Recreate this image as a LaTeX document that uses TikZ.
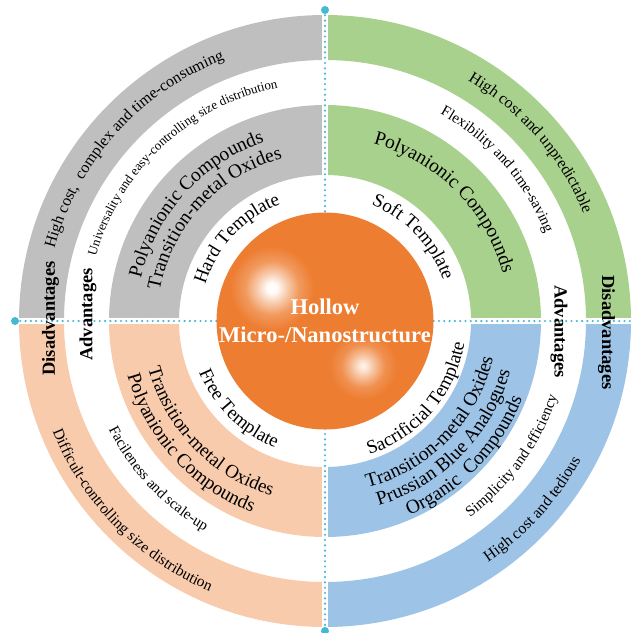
\documentclass[tikz,border=0pt]{standalone}
\usepackage{fontspec}
\setmainfont{Liberation Serif}
\usetikzlibrary{decorations.text}
\definecolor{grayC}{HTML}{BFBFBF}
\definecolor{greenC}{HTML}{A9D18E}
\definecolor{blueC}{HTML}{9DC3E6}
\definecolor{peachC}{HTML}{F8CBAD}
\definecolor{orangeC}{HTML}{ED7D31}
\definecolor{cyanC}{HTML}{45B8D2}
\pgfdeclareradialshading{glowA}{\pgfpoint{0bp}{0bp}}{color(0bp)=(white); color(3bp)=(white!97!orangeC); color(9bp)=(white!60!orangeC); color(16bp)=(white!22!orangeC); color(25bp)=(orangeC); color(50bp)=(orangeC)}
\pgfdeclareradialshading{glowB}{\pgfpoint{0bp}{0bp}}{color(0bp)=(white!92!orangeC); color(3bp)=(white!80!orangeC); color(9bp)=(white!48!orangeC); color(16bp)=(white!15!orangeC); color(25bp)=(orangeC); color(50bp)=(orangeC)}
\newcommand\ringpart[5]{%
  \fill[#1] (#2:#4pt) arc[start angle=#2, end angle=#3, radius=#4pt] -- (#3:#5pt) arc[start angle=#3, end angle=#2, radius=#5pt] -- cycle;}
\newcommand\cwtext[4]{%
  \path[decorate, decoration={text along path, text align=center, text={|\fontsize{#3}{#3}\selectfont|#4}}]
    ({#2+70}:#1pt) arc[start angle={#2+70}, end angle={#2-70}, radius=#1pt];}
\newcommand\ccwtext[4]{%
  \path[decorate, decoration={text along path, text align=center, text={|\fontsize{#3}{#3}\selectfont|#4}}]
    ({#2-70}:#1pt) arc[start angle={#2-70}, end angle={#2+70}, radius=#1pt];}
\tikzset{
  gapline/.style={white, line width=5.5pt},
  dotline/.style={cyanC, line width=2.4pt, line cap=round, dash pattern=on 0pt off 5.3pt},
  enddot/.style={fill=cyanC},
  sidelabel/.style={font=\bfseries\fontsize{18.5}{20}\selectfont, inner sep=0pt},
  title/.style={text=white, font=\bfseries\fontsize{22.5}{28}\selectfont, align=center, inner sep=0pt}
}
\begin{document}
\begin{tikzpicture}[x=1pt,y=1pt]
\useasboundingbox (-325,-312) rectangle (307,321);
% rings
\ringpart{grayC}{90}{180}{306}{261}
\ringpart{grayC}{90}{180}{216}{146}
\ringpart{greenC}{0}{90}{306}{261}
\ringpart{greenC}{0}{90}{216}{146}
\ringpart{peachC}{180}{270}{306}{261}
\ringpart{peachC}{180}{270}{216}{146}
\ringpart{blueC}{270}{360}{306}{261}
\ringpart{blueC}{270}{360}{216}{146}
% gaps
\coordinate (top) at (0,311);
\coordinate (bot) at (0,-310);
\coordinate (lft) at (-310,0);
\coordinate (rgt) at (307,0);
\draw[gapline] (0,-320) -- (0,320);
\draw[gapline] (-320,0) -- (320,0);
\draw[dotline] (top) -- (bot);
\draw[dotline] (lft) -- (rgt);
\fill[enddot] (top) circle (4);
\fill[enddot] (lft) circle (4);
\fill[enddot] (bot) circle (4);
% core
\fill[orangeC] (0,0) circle (108.5);
\begin{scope}
\clip (0,0) circle (108.5);
\shade[shading=glowA] (-53,33) circle (42);
\shade[shading=glowB] (38,-45) circle (34);
\end{scope}
\node[title] (core) at (0,0) {Hollow\\Micro-/Nanostructure};
% side labels
\node[sidelabel, rotate=90] (disL) at (-274.5,2.5) {Disadvantages};
\node[sidelabel, rotate=90] (advL) at (-237,6.5) {Advantages};
\node[sidelabel, rotate=-90] (advR) at (234,-10.5) {Advantages};
\node[sidelabel, rotate=-90] (disR) at (281.5,-11.5) {Disadvantages};
% gray quadrant
\cwtext{280}{138}{16}{High cost, {\ }complex and time-consuming}
\cwtext{238}{132.8}{13}{Universality and easy-controlling size distribution}
\cwtext{189}{137.8}{19.5}{Polyanionic Compounds}
\cwtext{168}{137}{19.5}{Transition-metal Oxides}
\cwtext{125}{137}{19}{Hard Template}
% green quadrant
\cwtext{280}{40.9}{16}{High cost and unpredictable}
\cwtext{237}{41.3}{15}{Flexibility and time-saving}
\cwtext{184}{44.8}{19.5}{Polyanionic Compounds}
\cwtext{125}{43.5}{19}{Soft Template}
% peach quadrant
\ccwtext{294}{224.5}{15.5}{Difficult-controlling size distribution}
\ccwtext{242}{223.4}{15}{Facileness and scale-up}
\ccwtext{183}{224}{19}{Transition-metal Oxides}
\ccwtext{205}{222.3}{19.5}{Polyanionic Compounds}
\ccwtext{136}{225.4}{19}{Free Template}
% blue quadrant
\ccwtext{291}{317.8}{16}{High cost and tedious}
\ccwtext{244}{324.3}{15}{Simplicity and efficiency}
\ccwtext{172}{316}{19.5}{Transition-metal Oxides}
\ccwtext{192}{315.5}{19.5}{Prussian Blue Analogues}
\ccwtext{212}{316}{19.5}{Organic {\ }Compounds}
\ccwtext{141}{319.7}{19}{Sacrificial Template}
\end{tikzpicture}
\end{document}
